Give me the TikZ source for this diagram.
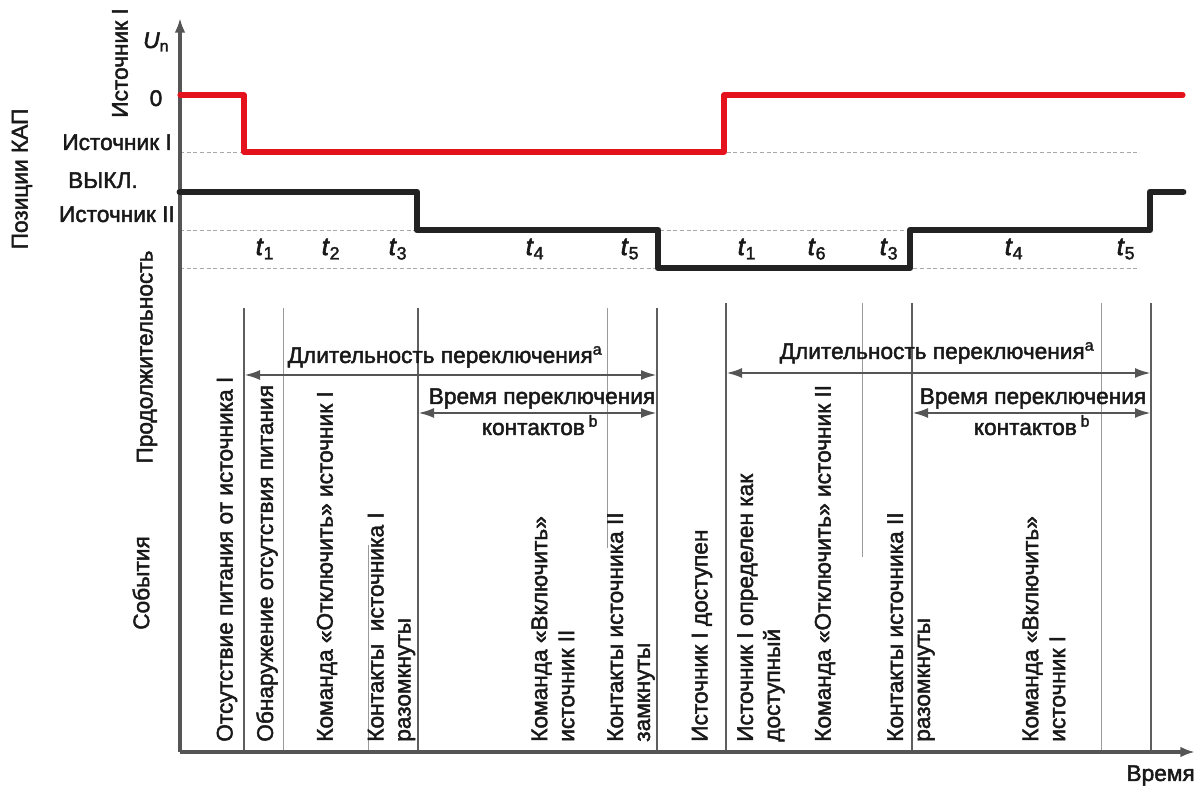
\documentclass[tikz,border=0pt]{standalone}
\usepackage{fontspec}
\setmainfont{Liberation Sans}[BoldFont={Liberation Sans}, BoldFeatures={FakeBold=2}, BoldItalicFont={Liberation Sans Italic}, BoldItalicFeatures={FakeBold=2.5}]
\usetikzlibrary{arrows.meta}
\definecolor{axisgray}{HTML}{555555}
\definecolor{linegray}{HTML}{5E5E5E}
\definecolor{thingray}{HTML}{9A9A9A}
\definecolor{dashgray}{HTML}{A8A8A8}
\definecolor{sigred}{HTML}{E3121C}
\definecolor{sigblack}{HTML}{222222}
\begin{document}
\begin{tikzpicture}[x=0.75pt,y=-0.75pt,
 lbl/.style={font=\fontsize{17}{20.25}\selectfont\bfseries, inner sep=0pt, text=black!90},
 tlbl/.style={font=\fontsize{19}{22}\selectfont\bfseries, inner sep=0pt, text=black!90, anchor=base},
 ev/.style={lbl, rotate=90, anchor=west, align=left},
 axisline/.style={draw=axisgray, line width=2.3pt, -{Latex[length=11pt,width=8pt]}},
 majorline/.style={draw=linegray, line width=2pt},
 minorline/.style={draw=thingray, line width=0.7pt},
 guide/.style={draw=dashgray, line width=0.6pt, dash pattern=on 3pt off 2pt},
 redsig/.style={draw=sigred, line width=3.8pt, line join=round, line cap=round},
 blacksig/.style={draw=sigblack, line width=5.2pt, line join=round, line cap=round},
 dimarrow/.style={draw=axisgray, line width=2pt, {Latex[length=12pt,width=7.5pt]}-{Latex[length=12pt,width=7.5pt]}},
]
\useasboundingbox (0,0) rectangle (1197,787);

% axes
\coordinate (O) at (180,752);
\coordinate (Ytip) at (180,18);
\coordinate (Xtip) at (1195,752);

% guide lines
\coordinate (G1a) at (180,152); \coordinate (G1b) at (1140,152);
\coordinate (G2a) at (180,230); \coordinate (G2b) at (1140,230);
\coordinate (G3a) at (180,268); \coordinate (G3b) at (1140,268);
\draw[guide] (G1a) -- (G1b);
\draw[guide] (G2a) -- (G2b);
\draw[guide] (G3a) -- (G3b);

% vertical event lines
\foreach \n/\x/\yt in {1/244/308, 3/418/308, 5/657/308, 6/726/303, 8/912/303, 10/1151/303} {
  \coordinate (V\n t) at (\x,\yt);
  \coordinate (V\n b) at (\x,752);
  \draw[majorline] (V\n t) -- (V\n b);
}
\foreach \n/\x/\yt/\yb in {2/283/308/752, 2b/368/545/752, 4/607/308/548, 7/862/303/557, 9/1101/303/752} {
  \coordinate (W\n t) at (\x,\yt);
  \coordinate (W\n b) at (\x,\yb);
  \draw[minorline] (W\n t) -- (W\n b);
}

\draw[axisline] (O) -- (Ytip);
\draw[axisline] (O) -- (Xtip);

% signals
\draw[redsig] (180,95) -- (244,95) -- (244,152) -- (724,152) -- (724,95) -- (1183,95);
\draw[blacksig] (180,192) -- (417,192) -- (417,230) -- (658,230) -- (658,268) -- (910,268) -- (910,230) -- (1150,230) -- (1150,192) -- (1183,192);

% axis labels
\node[lbl, rotate=90] (srcI) at (120,63) {Источник I};
\node[lbl, anchor=base west] (un) at (143,48) {\textit{U}\textsubscript{n}};
\node[lbl, anchor=base] (zero) at (156,106) {0};
\node[lbl, anchor=base east] (posI) at (172,150) {Источник I};
\node[lbl, anchor=base east] (posOff) at (138,188) {ВЫКЛ.};
\node[lbl, anchor=base east] (posII) at (175,222) {Источник II};
\node[lbl, rotate=90] (pos) at (22,179) {Позиции КАП};
\node[lbl, rotate=90] (dur) at (147,357) {Продолжительность};
\node[lbl, rotate=90] (evt) at (141,583) {События};
\node[lbl, anchor=base east] (time) at (1195,781) {Время};

% durations
\foreach \n/\x/\k in {a/265/1, b/331/2, c/398/3, d/535/4, e/630/5, f/747/1, g/817/6, h/889/3, i/1014/4, j/1126/5} {
  \node[tlbl] (t\n) at (\x,255) {\textit{t}\textsubscript{\k}};
}

% dimension arrows
\coordinate (D1l) at (244,375); \coordinate (D1r) at (657,375);
\coordinate (D2l) at (726,373); \coordinate (D2r) at (1151,373);
\coordinate (C1l) at (418,413); \coordinate (C1r) at (657,413);
\coordinate (C2l) at (912,413); \coordinate (C2r) at (1151,413);
\draw[dimarrow] (D1l) -- (D1r);
\draw[dimarrow] (D2l) -- (D2r);
\draw[dimarrow] (C1l) -- (C1r);
\draw[dimarrow] (C2l) -- (C2r);

\node[lbl, anchor=base] (dl1) at (445,363) {Длительность переключения\textsuperscript{a}};
\node[lbl, anchor=base] (dl2) at (937,359) {Длительность переключения\textsuperscript{a}};
\node[lbl, anchor=base] (vp1) at (542,404) {Время переключения};
\node[lbl, anchor=base] (kt1) at (540,435) {контактов\,\textsuperscript{b}};
\node[lbl, anchor=base] (vp2) at (1033,404) {Время переключения};
\node[lbl, anchor=base] (kt2) at (1032,435) {контактов\,\textsuperscript{b}};

% events
\node[ev] (e1) at (227,742) {Отсутствие питания от источника I};
\node[ev] (e2) at (267,742) {Обнаружение отсутствия питания};
\node[ev] (e3) at (327,742) {Команда «Отключить» источник I};
\node[ev] (e4) at (391.5,742) {Контакты~~источника I\\разомкнуты};
\node[ev] (e5) at (553,742) {Команда «Включить»\\источник II};
\node[ev] (e6) at (631,742) {Контакты источника II\\замкнуты};
\node[ev] (e7) at (702,742) {Источник I доступен};
\node[ev] (e8) at (761,742) {Источник I определен как\\доступный};
\node[ev] (e9) at (825,742) {Команда «Отключить» источник II};
\node[ev] (e10) at (911,742) {Контакты источника II\\разомкнуты};
\node[ev] (e11) at (1044,742) {Команда «Включить»\\источник I};
\end{tikzpicture}
\end{document}
